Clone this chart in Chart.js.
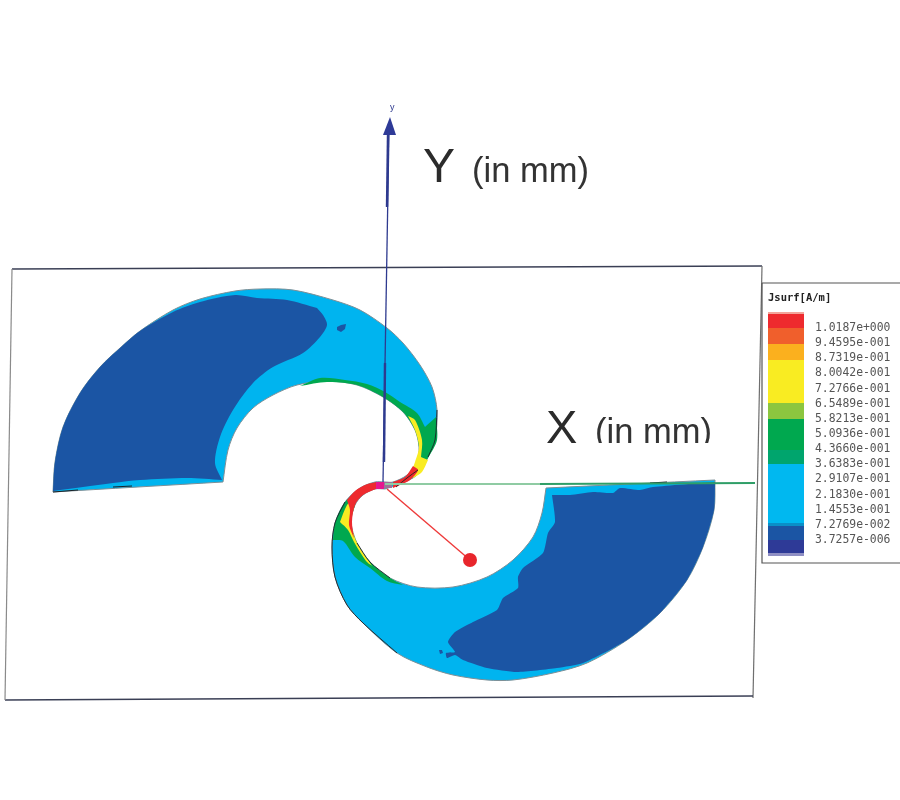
<!DOCTYPE html>
<html>
<head>
<meta charset="utf-8">
<script src="https://cdn.jsdelivr.net/npm/chart.js@4/dist/chart.umd.min.js"></script>
<style>
html,body{margin:0;padding:0;background:#fff;overflow:hidden}
#wrap{width:900px;height:800px;position:relative}
canvas{display:block;filter:blur(0.5px)}
</style>
</head>
<body>
<div id="wrap"><canvas id="c" width="900" height="800"></canvas></div>
<script>
// Drawing values (drawing units). A repeated point marks a sharp corner.
const frameTop = [[12,269],[762,266]];
const frameRight = [[762,266],[753,698]];
const frameBottom = [[753,696],[5,700]];
const frameLeft = [[5,700],[12,269]];

const upperCrescent = [[53,492],[53,492],[55,462],[63,427],[80,393],[100,367],[120,348],[140,331],[173,310],[200,299],[235,291],[260,289],[293,290],[333,300],[360,310],[387,328],[403,343],[420,365],[432,387],[437,410],[435,440],[428,457],[417,475],[400,484],[385,489],[385,489],[385,482],[385,482],[393,482],[407,475],[417,462],[419,447],[415,430],[403,412],[383,397],[357,385],[327,381],[297,385],[273,395],[253,408],[237,428],[228,450],[223,482],[223,482],[53,492],[53,492]];
const upperDeep = [[53,491],[53,491],[55,462],[63,427],[80,393],[100,367],[120,348],[140,331],[173,312],[200,302],[235,295],[257,298],[287,300],[317,308],[317,308],[323,315],[327,325],[320,337],[303,353],[273,367],[253,383],[233,410],[220,437],[215,463],[222,480],[222,480],[187,478],[140,480],[113,483],[83,487],[53,491],[53,491]];
const upperSpot = [[337,327],[341,325],[346,324],[345,329],[341,332],[337,330]];
const upperGreen = [[300,386],[300,386],[320,378],[345,380],[367,384],[385,392],[400,402],[417,413],[425,427],[425,427],[436,417],[436,417],[437,440],[428,458],[418,474],[405,480],[405,480],[417,462],[419,447],[415,430],[403,412],[383,397],[357,385],[327,382],[300,386],[300,386]];
const upperYellow = [[408,416],[408,416],[415,420],[422,440],[421,457],[421,457],[428,460],[428,460],[422,472],[413,478],[413,478],[411,474],[415,462],[419,447],[415,430],[408,416],[408,416]];
const upperRed = [[393,482],[393,482],[405,477],[413,466],[413,466],[418,470],[410,480],[400,485],[393,488],[393,488],[393,482],[393,482]];

const lowerCrescent = [[715,480],[715,480],[714,510],[703,547],[687,580],[660,613],[627,640],[587,663],[553,673],[513,680],[487,680],[453,675],[427,667],[397,653],[363,623],[347,605],[335,577],[332,547],[335,523],[345,502],[360,488],[375,482],[385,482],[385,482],[385,489],[385,489],[375,489],[363,495],[355,505],[351,522],[357,543],[370,562],[390,578],[417,587],[453,587],[487,577],[513,560],[533,537],[542,513],[546,488],[546,488],[715,480],[715,480]];
const lowerDeep = [[552,495],[552,495],[570,495],[593,492],[613,493],[620,488],[640,490],[653,487],[715,482],[715,482],[714,510],[703,547],[687,580],[660,613],[627,640],[583,663],[557,668],[517,672],[487,668],[463,660],[455,655],[447,658],[446,653],[455,652],[448,642],[455,632],[473,622],[497,610],[503,598],[518,588],[518,577],[523,568],[543,553],[548,533],[555,522],[552,495],[552,495]];
const lowerSpot = [[439,650],[442,650],[443,653],[440,654]];
const lowerGreen = [[333,540],[333,540],[335,523],[345,502],[358,492],[358,492],[355,505],[351,522],[357,543],[370,562],[390,578],[403,585],[403,585],[387,581],[370,568],[355,557],[343,541],[333,540],[333,540]];
const lowerYellow = [[340,522],[340,522],[347,505],[356,495],[356,495],[354,507],[351,522],[357,543],[372,566],[372,566],[366,561],[354,542],[348,530],[340,522],[340,522]];
const lowerRed = [[347,500],[347,500],[355,491],[365,485],[376,482],[376,482],[376,489],[376,489],[363,495],[355,505],[352,522],[354,538],[354,538],[349,525],[350,510],[347,500],[347,500]];

const feedPink = [[376,482],[384,482],[384,489],[376,489],[376,482]];
const feedGrey = [[384,482],[392,482],[392,488],[384,488],[384,482]];
const edgeInk1 = [[357,543],[370,562],[390,578]];
const edgeInk2 = [[345,502],[335,523],[332,547],[335,577],[347,605],[363,623],[397,653]];
const edgeInk3 = [[396,487],[407,478],[418,470]];
const edgeInk4 = [[428,457],[435,440],[437,410]];
const edgeInk5 = [[53,492],[78,490]];
const edgeInk6 = [[113,487],[132,486]];
const edgeInk7 = [[650,483],[667,482]];

const axisYThin = [[383,482],[389,130]];
const axisYThickA = [[387,207],[388,135]];
const axisYThickB = [[384,462],[385,363]];
const axisYHead = [[390,117],[396,135],[383,135],[390,117]];
const axisXPale = [[385,484],[540,484]];
const axisXDark = [[540,484],[755,483]];
const probeLine = [[387,489],[470,560]];
const probeDot = [[470,560]];

const legendTitle = "Jsurf[A/m]";
const legendLabels = ["1.0187e+000","9.4595e-001","8.7319e-001","8.0042e-001","7.2766e-001","6.5489e-001","5.8213e-001","5.0936e-001","4.3660e-001","3.6383e-001","2.9107e-001","2.1830e-001","1.4553e-001","7.2769e-002","3.7257e-006"];
const legendEdges = [312,314,328,344,360,403,419,450,464,523,526,540,553,556];
const legendColors = ["#f3a49a","#ee2a2e","#f05f2c","#fbb01e","#f9ec22","#8cc63f","#00a84f","#00a56d","#00b8f0","#0a8fc8","#1b55a4","#2e3a97","#8f8fc4"];

const lbl = (arr) => arr.map(p => ({x:p[0], y:p[1]}));
const painted = [];
const shape = (arr, color, extra) => painted.push(Object.assign({data:lbl(arr), showLine:true, fill:'shape', backgroundColor:color, borderColor:color, borderWidth:0, pointRadius:0, tension:0}, extra||{}));
const stroke = (arr, color, width, tension) => painted.push({data:lbl(arr), showLine:true, fill:false, borderColor:color, borderWidth:width, pointRadius:0, tension:tension||0});

stroke(frameTop,'#3a3f55',1.3);
stroke(frameRight,'#6f6f6f',1.2);
stroke(frameBottom,'#3a3f55',1.3);
stroke(frameLeft,'#8a8a8a',1.2);

const CYAN = '#00b4ef', DEEP = '#1b55a4', GREEN = '#00a84f', YELLOW = '#f9ec22', RED = '#ee2a2e';
const CURVE = {tension:0.3};
shape(upperCrescent, CYAN, {borderColor:'#7d8f96', borderWidth:1, tension:0.3});
shape(lowerCrescent, CYAN, {borderColor:'#7d8f96', borderWidth:1, tension:0.3});
shape(upperDeep, DEEP, CURVE);
shape(upperSpot, DEEP);
shape(lowerDeep, DEEP, {tension:0.2});
shape(lowerSpot, DEEP);
shape(upperGreen, GREEN, CURVE);
shape(lowerGreen, GREEN, CURVE);
shape(upperYellow, YELLOW, CURVE);
shape(lowerYellow, YELLOW, CURVE);
shape(upperRed, RED, CURVE);
shape(lowerRed, RED, CURVE);
shape(feedPink, '#e5178f');
shape(feedGrey, '#a0709a');
[edgeInk1,edgeInk2,edgeInk3,edgeInk4].forEach(a => stroke(a,'#1a2228',0.9,0.3));
[edgeInk5,edgeInk6,edgeInk7].forEach(a => stroke(a,'#1a2228',1.1));

stroke(axisXPale,'#8fcba3',2.2);
stroke(axisXDark,'#2f9e67',1.8);
stroke(axisYThin,'#2e3a8f',1.3);
stroke(axisYThickA,'#2e3a8f',2.4);
stroke(axisYThickB,'#2e3a8f',2.4);
shape(axisYHead,'#2e3a97');
stroke(probeLine,'#ee3a3a',1.4);
painted.push({data:lbl(probeDot), pointRadius:7, pointBackgroundColor:'#e8262c', pointBorderWidth:0, showLine:false});

// legend box and colour bar
const LEG_L = 768, LEG_R = 804, BOX = [[762,283],[905,283],[905,563],[762,563],[762,283]];
painted.push({data:lbl(BOX), showLine:true, fill:false, borderColor:'#555', borderWidth:1.2, pointRadius:0, tension:0});
legendColors.forEach((col,i) => {
  const a = legendEdges[i], b = legendEdges[i+1];
  shape([[LEG_L,a],[LEG_R,a],[LEG_R,b],[LEG_L,b],[LEG_L,a]], col);
});

const textPlugin = {
  id:'captions',
  afterDatasetsDraw(chart){
    const c = chart.ctx, X = chart.scales.x, Y = chart.scales.y;
    const put = (s,x,y,font,color) => { c.font = font; c.fillStyle = color; c.fillText(s, X.getPixelForValue(x), Y.getPixelForValue(y)); };
    c.save();
    c.textBaseline = 'alphabetic'; c.textAlign = 'left';
    put('Y',423,182,'48px "Liberation Sans"','#2b2b2b');
    put('(in mm)',472,182,'34.5px "Liberation Sans"','#333');
    put('y',390,110,'9px "Liberation Sans"','#2e3a8f');
    c.save();
    c.beginPath(); c.rect(500,380,258,63); c.clip();
    put('X',546,443,'47px "Liberation Sans"','#2b2b2b');
    put('(in mm)',595,443,'34.5px "Liberation Sans"','#333');
    c.restore();
    put(legendTitle,768,301,'bold 10.5px "DejaVu Sans Mono"','#222');
    c.textBaseline = 'middle';
    const rows = [328,343,358,373,389,404,419,434,449,464,479,495,510,525,540];
    legendLabels.forEach((s,i) => put(s,815,rows[i],'11.4px "DejaVu Sans Mono"','#555'));
    c.restore();
  }
};

new Chart(document.getElementById('c'),{
  type:'scatter',
  data:{datasets:painted.slice().reverse()},
  options:{
    responsive:false, animation:false, devicePixelRatio:1,
    layout:{padding:0, autoPadding:false},
    plugins:{legend:{display:false},tooltip:{enabled:false},title:{display:false}},
    scales:{
      x:{type:'linear',min:0,max:900,display:false},
      y:{type:'linear',min:0,max:800,reverse:true,display:false}
    }
  },
  plugins:[textPlugin]
});
</script>
</body>
</html>
